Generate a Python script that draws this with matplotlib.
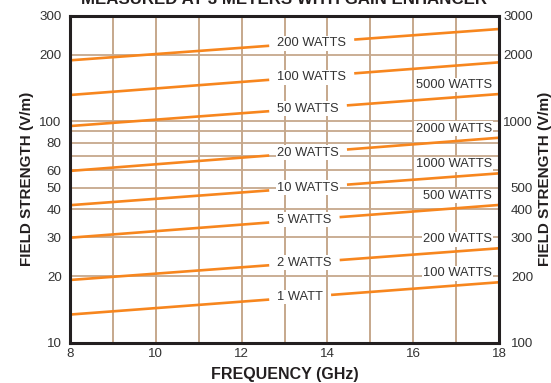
import numpy as np
import matplotlib
matplotlib.use("Agg")
import matplotlib.pyplot as plt
from matplotlib.ticker import FixedLocator, NullLocator, NullFormatter

plt.rcParams['font.family'] = ['Liberation Sans', 'DejaVu Sans']

# ---- data ----
freq_range = [8, 18]                       # GHz
watts_left = ["1 WATT", "2 WATTS", "5 WATTS", "10 WATTS", "20 WATTS",
              "50 WATTS", "100 WATTS", "200 WATTS"]
fs_at_8 = [13.4, 19.2, 29.8, 41.8, 59.7, 95.2, 131.5, 188.6]      # V/m at 8 GHz
fs_at_18 = [18.75, 26.7, 41.9, 58.2, 84.3, 132.8, 184.7, 261.2]   # V/m at 18 GHz
watts_right = ["100 WATTS", "200 WATTS", "500 WATTS", "1000 WATTS",
               "2000 WATTS", "5000 WATTS"]                          # same lines, right scale
left_ticks = [10, 20, 30, 40, 50, 60, 80, 100, 200, 300]
right_ticks = [100, 200, 300, 400, 500, 1000, 2000, 3000]
hgrid_vals = [20, 30, 40, 50, 60, 70, 80, 90, 100, 200]
vgrid_vals = [9, 10, 11, 12, 13, 14, 15, 16, 17]
x_ticks = [8, 10, 12, 14, 16, 18]

ORANGE = "#F7861E"
GRID = "#C6A88C"
DARK = "#231F20"
TXT = "#333333"

fig = plt.figure(figsize=(5.51, 3.83), dpi=100)
ax = fig.add_axes([70/551, 1-342.7/383, (499-70)/551, (342.7-15.7)/383])
ax.set_yscale('log')
ax.set_xlim(freq_range)
ax.set_ylim(10, 300)

for v in hgrid_vals:
    ax.axhline(v, color=GRID, lw=1.3, zorder=1)
for v in vgrid_vals:
    ax.axvline(v, color=GRID, lw=1.4, zorder=1)

ax.yaxis.set_major_locator(FixedLocator(left_ticks))
ax.yaxis.set_minor_locator(NullLocator())
ax.yaxis.set_minor_formatter(NullFormatter())
ax.set_yticklabels([str(t) for t in left_ticks])
ax.set_xticks(x_ticks)
ax.set_xticklabels([str(t) for t in x_ticks])
ax.tick_params(axis='both', length=0, labelsize=9.6, colors=TXT)
ax.tick_params(axis='y', pad=6)
ax.tick_params(axis='x', pad=4)
for s in ax.spines.values():
    s.set_linewidth(2.2)
    s.set_color(DARK)
    s.set_zorder(5)

ax2 = ax.twinx()
ax2.set_yscale('log')
ax2.set_ylim(100, 3000)
ax2.yaxis.set_major_locator(FixedLocator(right_ticks))
ax2.yaxis.set_minor_locator(NullLocator())
ax2.yaxis.set_minor_formatter(NullFormatter())
ax2.set_yticklabels([str(t) for t in right_ticks], ha='right')
ax2.tick_params(axis='y', length=0, labelsize=9.6, colors=TXT, pad=24.5)
for s in ax2.spines.values():
    s.set_visible(False)

def val_at(a, b, x):
    return np.exp(np.log(a) + (x - freq_range[0]) / (freq_range[1] - freq_range[0]) * (np.log(b) - np.log(a)))

lab_x = 12.83
texts = []
for name, a, b in zip(watts_left, fs_at_8, fs_at_18):
    t = ax.text(lab_x, val_at(a, b, 13.45), name, ha='left', va='center',
                fontsize=9.3, color=TXT, zorder=4,
                bbox=dict(facecolor='white', edgecolor='none', pad=1.0))
    texts.append(t)

fig.canvas.draw()
r = fig.canvas.get_renderer()
inv = ax.transData.inverted()
for t, a, b in zip(texts, fs_at_8, fs_at_18):
    bb = t.get_window_extent(r)
    x0 = inv.transform((bb.x0 - 8, bb.y0))[0]
    x1 = inv.transform((bb.x1 + 8, bb.y0))[0]
    for xs in (np.array([freq_range[0], x0]), np.array([x1, freq_range[1]])):
        ax.plot(xs, val_at(a, b, xs), color=ORANGE, lw=1.9, zorder=3,
                solid_capstyle='butt')

for name, a, b in zip(watts_right, fs_at_8, fs_at_18):
    ax.annotate(name, xy=(freq_range[1], b), xytext=(-7, 9),
                textcoords='offset pixels', ha='right', va='center',
                fontsize=9.3, color=TXT, zorder=4,
                bbox=dict(facecolor='white', edgecolor='none', pad=1.0))

ax.set_xlabel("FREQUENCY (GHz)", fontsize=11.5, fontweight='bold', color=DARK, labelpad=5)
fig.text(27/551, 0.532, "FIELD STRENGTH (V/m)", rotation=90, ha='center', va='center',
         fontsize=11, fontweight='bold', color=DARK)
fig.text(545/551, 0.532, "FIELD STRENGTH (V/m)", rotation=90, ha='center', va='center',
         fontsize=11, fontweight='bold', color=DARK)
fig.text(0.516, 1 - 4/383, "MEASURED AT 3 METERS WITH GAIN ENHANCER", ha='center',
         va='baseline', fontsize=12.2, fontweight='bold', color=DARK)

fig.savefig("out.png", dpi=100)
